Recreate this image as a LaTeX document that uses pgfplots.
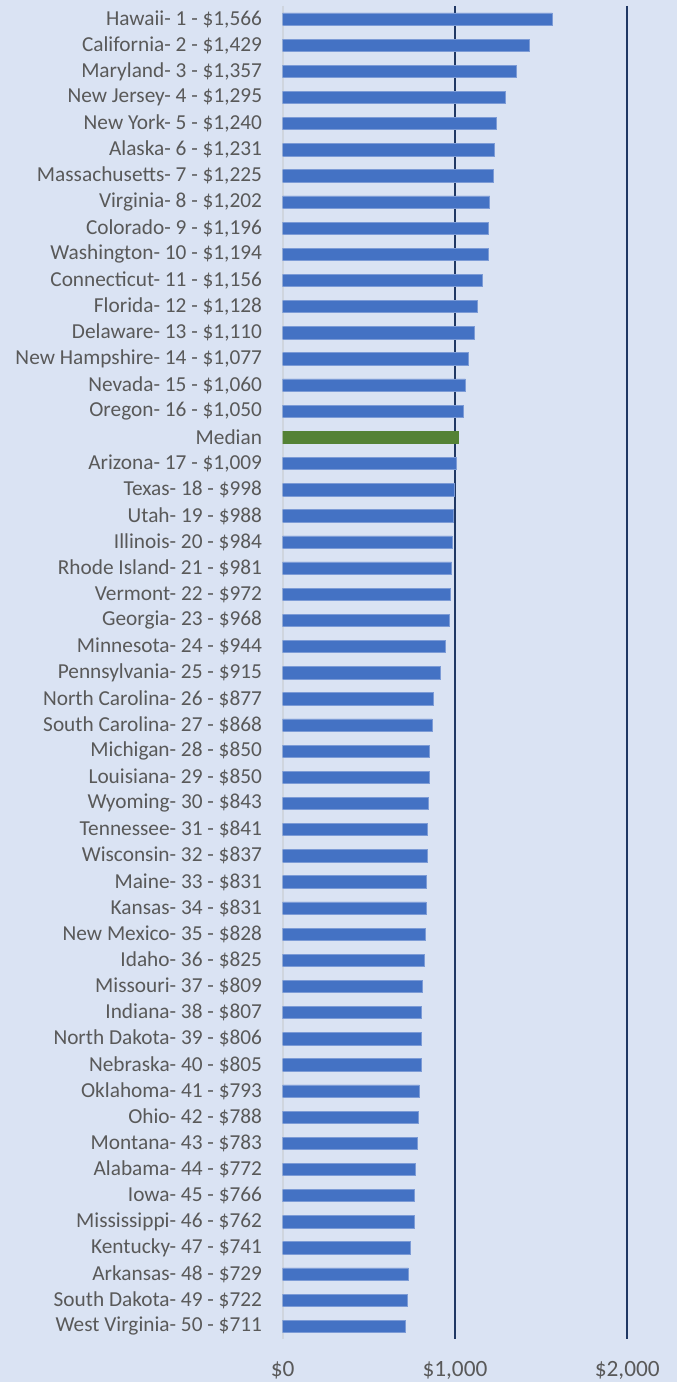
\documentclass[border=0pt]{standalone}
\usepackage{fontspec}
\setmainfont{Carlito}
\usepackage{pgfplots}
\pgfplotsset{compat=1.18}
\usetikzlibrary{backgrounds,calc}
\definecolor{bgblue}{HTML}{DAE3F3}
\definecolor{barblue}{HTML}{4472C4}
\definecolor{baredge}{HTML}{7C9BD6}
\definecolor{medgreen}{HTML}{548235}
\definecolor{gridnavy}{HTML}{203864}
\definecolor{labgray}{HTML}{595959}
\definecolor{axgray}{HTML}{CFD5DE}

\begin{document}
\begin{tikzpicture}
\begin{axis}[
  name=ax,
  scale only axis,
  width=296.25pt, height=1001.25pt,
  xmin=0, xmax=2290,
  ymin=-0.5, ymax=50.5,
  y dir=reverse,
  axis line style={draw=none},
  xtick={1000,2000},
  xticklabels={{\$1,000},{\$2,000}},
  extra x ticks={0},
  extra x tick labels={\$0},
  extra x tick style={grid=major, major grid style={axgray, line width=1.5pt}},
  xmajorgrids,
  major grid style={gridnavy, line width=1.4pt},
  major tick length=0pt,
  xticklabel style={font=\fontsize{17.5}{19}\selectfont, text=labgray, yshift=-13pt},
  ytick={0,...,50},
  yticklabels={
    {Hawaii- 1 - \$1,566},{California- 2 - \$1,429},{Maryland- 3 - \$1,357},
    {New Jersey- 4 - \$1,295},{New York- 5 - \$1,240},{Alaska- 6 - \$1,231},
    {Massachusetts- 7 - \$1,225},{Virginia- 8 - \$1,202},{Colorado- 9 - \$1,196},
    {Washington- 10 - \$1,194},{Connecticut- 11 - \$1,156},{Florida- 12 - \$1,128},
    {Delaware- 13 - \$1,110},{New Hampshire- 14 - \$1,077},{Nevada- 15 - \$1,060},
    {Oregon- 16 - \$1,050},{Median},{Arizona- 17 - \$1,009},
    {Texas- 18 - \$998},{Utah- 19 - \$988},{Illinois- 20 - \$984},
    {Rhode Island- 21 - \$981},{Vermont- 22 - \$972},{Georgia- 23 - \$968},
    {Minnesota- 24 - \$944},{Pennsylvania- 25 - \$915},{North Carolina- 26 - \$877},
    {South Carolina- 27 - \$868},{Michigan- 28 - \$850},{Louisiana- 29 - \$850},
    {Wyoming- 30 - \$843},{Tennessee- 31 - \$841},{Wisconsin- 32 - \$837},
    {Maine- 33 - \$831},{Kansas- 34 - \$831},{New Mexico- 35 - \$828},
    {Idaho- 36 - \$825},{Missouri- 37 - \$809},{Indiana- 38 - \$807},
    {North Dakota- 39 - \$806},{Nebraska- 40 - \$805},{Oklahoma- 41 - \$793},
    {Ohio- 42 - \$788},{Montana- 43 - \$783},{Alabama- 44 - \$772},
    {Iowa- 45 - \$766},{Mississippi- 46 - \$762},{Kentucky- 47 - \$741},
    {Arkansas- 48 - \$729},{South Dakota- 49 - \$722},{West Virginia- 50 - \$711}},
  yticklabel style={font=\fontsize{16}{18}\selectfont, text=labgray, xshift=-12pt},
  xbar, bar width=0.47, bar shift=0pt,
]
% states
\addplot[fill=barblue, draw=baredge, line width=0.5pt] coordinates {
  (1566,0) (1429,1) (1357,2) (1295,3) (1240,4) (1231,5) (1225,6) (1202,7)
  (1196,8) (1194,9) (1156,10) (1128,11) (1110,12) (1077,13) (1060,14) (1050,15)
  (1009,17) (998,18) (988,19) (984,20) (981,21) (972,22) (968,23) (944,24)
  (915,25) (877,26) (868,27) (850,28) (850,29) (843,30) (841,31) (837,32)
  (831,33) (831,34) (828,35) (825,36) (809,37) (807,38) (806,39) (805,40)
  (793,41) (788,42) (783,43) (772,44) (766,45) (762,46) (741,47) (729,48)
  (722,49) (711,50)
};
% median
\addplot[fill=medgreen, draw=medgreen] coordinates {(1020,16)};
\end{axis}
\begin{scope}[on background layer]
\fill[bgblue] ($(ax.south west)+(-212.25pt,-32.25pt)$) rectangle ($(ax.north east)+(0,4.5pt)$);
\end{scope}
\end{tikzpicture}
\end{document}
